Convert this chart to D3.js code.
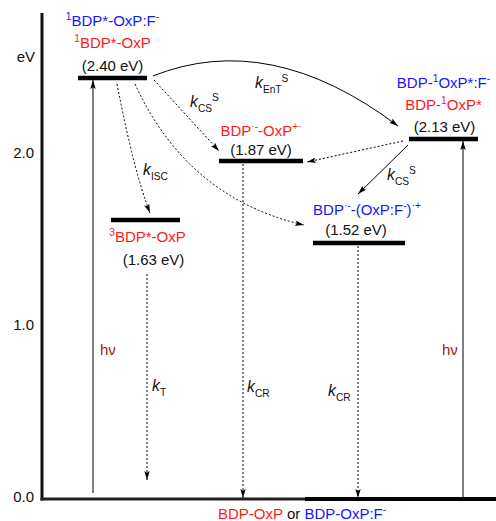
<!DOCTYPE html>
<html lang="en">
<head>
  <meta charset="UTF-8">
  <title>Energy diagram</title>
  <script src="https://d3js.org/d3.v7.min.js"></script>
  <style>
    body { margin: 0; padding: 0; background: #fff; }
    svg { display: block; font-family: 'Liberation Sans', Arial, sans-serif; }
  </style>
</head>
<body>
  <svg id="chart"></svg>
  <script>
    // energy axis ticks
    const tickValues = [0, 1, 2];
    const axisUnit = "eV";

    // states: id, drawn height on the energy axis (schematic), x span in diagram units
    const levelIds    = ["S1", "OxS1", "CT1", "T1", "CT2", "G"];
    const levelHeight = [2.448, 2.093, 1.965, 1.622, 1.488, 0];
    const levelStart  = [36, 367, 177, 69, 271, 263];
    const levelEnd    = [105, 436, 261, 138, 363, 454];
    const levelEnergy = ["(2.40 eV)", "(2.13 eV)", "(1.87 eV)", "(1.63 eV)", "(1.52 eV)", null];

    // state names (segments: text, kind)
    const nameS1Blue  = [["1", "sup"], ["BDP*-OxP:F", ""], ["-", "sup"]];
    const nameS1Red   = [["1", "sup"], ["BDP*-OxP", ""]];
    const nameOxBlue  = [["BDP-", ""], ["1", "sup"], ["OxP*:F", ""], ["-", "sup"]];
    const nameOxRed   = [["BDP-", ""], ["1", "sup"], ["OxP*", ""]];
    const nameCT1     = [["BDP", ""], ["·-", "sup"], ["-OxP", ""], ["+·", "sup"]];
    const nameT1      = [["3", "sup"], ["BDP*-OxP", ""]];
    const nameCT2     = [["BDP", ""], ["·-", "sup"], ["-(OxP:F", ""], ["-", "sup"], [")", ""], ["·+", "sup"]];

    // rate constants
    const rateEnT  = [["k", "i"], ["EnT", "sub"], ["S", "sup"]];
    const rateCS   = [["k", "i"], ["CS", "sub"], ["S", "sup"]];
    const rateISC  = [["k", "i"], ["ISC", "sub"]];
    const rateT    = [["k", "i"], ["T", "sub"]];
    const rateCR   = [["k", "i"], ["CR", "sub"]];
    const photon   = [["hν", ""]];

    const W = 496, H = 521;
    const blue = "#1616ff", red = "#ff1a1a", dark = "#9e1b1b";

    const svg = d3.select("#chart").attr("width", W).attr("height", H);

    const x = d3.scaleLinear().domain([0, 454]).range([42, 496]);
    const y = d3.scaleLinear().domain([0, 2]).range([499, 155]);

    const defs = svg.append("defs");
    defs.append("marker")
      .attr("id", "head")
      .attr("viewBox", "0 0 10 6")
      .attr("refX", 10).attr("refY", 3)
      .attr("markerWidth", 9).attr("markerHeight", 5.5)
      .attr("markerUnits", "userSpaceOnUse")
      .attr("orient", "auto")
      .append("path").attr("d", "M0,0 L10,3 L0,6 L2,3 z").attr("fill", "#000");

    // rich text helper
    function rich(g, segs, px, py, anchor, size, color) {
      const t = g.append("text")
        .attr("x", px).attr("y", py)
        .attr("text-anchor", anchor)
        .attr("font-size", size)
        .attr("fill", color);
      let shift = 0;
      segs.forEach(([s, k]) => {
        const target = k === "sup" ? -0.42 * size : k === "sub" ? 0.3 * size : 0;
        const ts = t.append("tspan").attr("dy", target - shift).text(s);
        shift = target;
        if (k === "sup" || k === "sub") ts.attr("font-size", size * 0.68);
        if (k === "i") ts.attr("font-style", "italic").attr("font-size", size * 1.05);
      });
      return t;
    }

    // axis
    svg.append("line")
      .attr("x1", x(0)).attr("x2", x(0))
      .attr("y1", 13).attr("y2", y(0) + 1.5)
      .attr("stroke", "#111").attr("stroke-width", 3);
    svg.append("line")
      .attr("x1", x(0) - 1.5).attr("x2", x(levelStart[5]))
      .attr("y1", y(0)).attr("y2", y(0))
      .attr("stroke", "#222").attr("stroke-width", 3);

    svg.selectAll("text.tick")
      .data(tickValues)
      .join("text")
      .attr("class", "tick")
      .attr("x", 34)
      .attr("y", d => y(d) + 3)
      .attr("text-anchor", "end")
      .attr("font-size", 15)
      .attr("fill", "#111")
      .text(d3.format(".1f"));
    svg.append("text")
      .attr("x", 35).attr("y", y(2.57) + 5)
      .attr("text-anchor", "end")
      .attr("font-size", 15)
      .attr("fill", "#111")
      .text(axisUnit);

    // levels
    const levels = levelIds.map((id, i) => ({
      id, h: levelHeight[i], x0: levelStart[i], x1: levelEnd[i], e: levelEnergy[i]
    }));
    const L = Object.fromEntries(levels.map(d => [d.id, d]));
    const cx = d => (x(d.x0) + x(d.x1)) / 2;

    svg.selectAll("line.level")
      .data(levels)
      .join("line")
      .attr("class", "level")
      .attr("x1", d => x(d.x0)).attr("x2", d => x(d.x1))
      .attr("y1", d => y(d.h)).attr("y2", d => y(d.h))
      .attr("stroke", "#000")
      .attr("stroke-width", d => d.id === "G" ? 4 : 4.5);

    // arrows
    const arrows = svg.append("g").attr("fill", "none").attr("stroke", "#000").attr("stroke-width", 1);
    function arrow(d, dotted) {
      arrows.append("path").attr("d", d)
        .attr("stroke-dasharray", dotted ? "2,2" : null)
        .attr("marker-end", "url(#head)");
    }
    const S1 = L.S1, OX = L.OxS1, CT1 = L.CT1, T1 = L.T1, CT2 = L.CT2;

    // excitation
    arrow(`M${x(51)},${y(0) - 6} L${x(51)},${y(S1.h) + 2}`, false);
    arrow(`M${x(421)},${y(0) - 2} L${x(421)},${y(OX.h) + 2}`, false);
    // ISC
    arrow(`M${x(75)},${y(S1.h) + 6} Q${x(92)},${y(1.9)} ${x(108)},${y(T1.h) - 7}`, true);
    // S1 -> CT2
    arrow(`M${x(93)},${y(S1.h) + 6} Q${x(145)},${y(1.75)} ${x(262)},${y(CT2.h) - 18}`, true);
    // S1 -> CT1
    arrow(`M${x(112)},${y(S1.h) + 2} L${x(177)},${y(CT1.h) - 10}`, true);
    // energy transfer
    arrow(`M${x(111)},${y(S1.h) - 2} Q${x(228)},${y(2.73)} ${x(356)},${y(OX.h) - 13}`, false);
    // OxS1 -> CT1
    arrow(`M${x(361)},${y(OX.h) + 2} L${x(265)},${y(CT1.h) + 1}`, true);
    // OxS1 -> CT2
    arrow(`M${x(366)},${y(OX.h) + 6} L${x(316)},${y(CT2.h) - 49}`, false);
    // decays
    arrow(`M${x(105)},${y(T1.h) + 54} L${x(105)},${y(0) - 19}`, true);
    arrow(`M${x(201)},${y(CT1.h) + 3} L${x(201)},${y(0) - 1}`, true);
    arrow(`M${x(316)},${y(CT2.h) + 3} L${x(316)},${y(0) - 1}`, true);

    // state labels
    const lab = svg.append("g");
    rich(lab, nameS1Blue, cx(S1), y(S1.h) - 52, "middle", 15, blue);
    rich(lab, nameS1Red, cx(S1), y(S1.h) - 30, "middle", 15, red);
    rich(lab, nameOxBlue, cx(OX), y(OX.h) - 51, "middle", 15, blue);
    rich(lab, nameOxRed, cx(OX), y(OX.h) - 29, "middle", 15, red);
    rich(lab, nameCT1, cx(CT1), y(CT1.h) - 25, "middle", 15, red);
    rich(lab, nameT1, cx(T1) + 2, y(T1.h) + 22, "middle", 15, red);
    rich(lab, nameCT2, cx(CT2) + 8, y(CT2.h) - 28, "middle", 15, blue);

    const energyPos = { S1: [0, -7], OxS1: [1, -7], CT1: [0, -6], T1: [8, 45], CT2: [-3, -8] };
    levels.filter(d => d.e).forEach(d => {
      lab.append("text")
        .attr("x", cx(d) + energyPos[d.id][0])
        .attr("y", y(d.h) + energyPos[d.id][1])
        .attr("text-anchor", "middle")
        .attr("font-size", 15)
        .attr("fill", "#111")
        .text(d.e);
    });

    // rate labels
    rich(lab, rateEnT, x(213), 88, "start", 15, "#111");
    rich(lab, rateCS, x(148), 107, "start", 15, "#111");
    rich(lab, rateISC, x(101), 175, "start", 15, "#111");
    rich(lab, rateCS, x(345), 180, "start", 15, "#111");
    rich(lab, rateT, x(110), 391, "start", 15, "#111");
    rich(lab, rateCR, x(205), 392, "start", 15, "#111");
    rich(lab, rateCR, x(286), 396, "start", 15, "#111");
    rich(lab, photon, x(58), 355, "start", 15, dark);
    rich(lab, photon, x(400), 355, "start", 15, dark);

    // ground state label
    const gt = svg.append("text").attr("x", x(176)).attr("y", 519).attr("font-size", 15);
    gt.append("tspan").attr("fill", red).text("BDP-OxP");
    gt.append("tspan").attr("fill", "#111").text(" or ");
    gt.append("tspan").attr("fill", blue).text("BDP-OxP:F");
    gt.append("tspan").attr("fill", blue).attr("font-size", 10).attr("dy", -6).text("-");
  </script>
</body>
</html>
